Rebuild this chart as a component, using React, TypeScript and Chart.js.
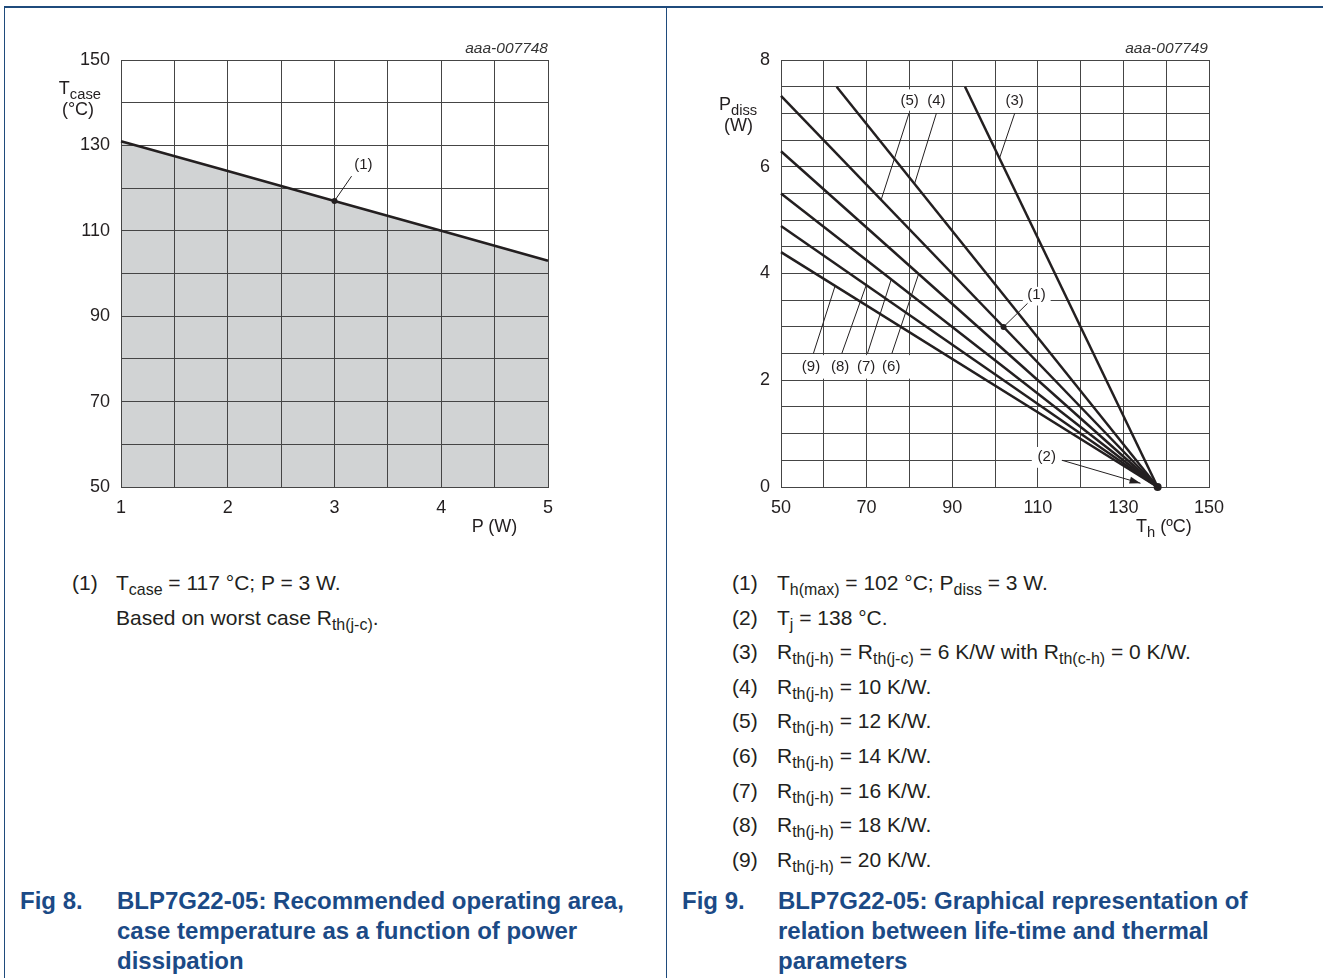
import React, { useEffect, useRef } from 'react';
import { Chart, registerables } from 'chart.js';

Chart.register(...registerables);

const INK = '#231f20';
const GRID = '#454545';
const FILL = '#d1d3d4';
const NAVY = '#1b4a86';
const FRAME = '#1f4b7c';
const FONT = '"Liberation Sans", Arial, Helvetica, sans-serif';

// ---------- Fig 8 data ----------
const fig8Power = [1, 2, 3, 4, 5];
const fig8Tcase = [131, 124, 117, 110, 103];
const fig8MarkerP = [3];
const fig8MarkerT = [117];
const fig8XLabels = [1, 2, 3, 4, 5];
const fig8YLabels = [50, 70, 90, 110, 130, 150];

// ---------- Fig 9 data ----------
const fig9Curves = ['(3)', '(4)', '(5)', '(6)', '(7)', '(8)', '(9)'];
const fig9ThStart = [93, 63, 50, 50, 50, 50, 50];
const fig9PStart = [7.5, 7.5, 7.33, 6.29, 5.5, 4.89, 4.4];
const fig9ThEnd = [138, 138, 138, 138, 138, 138, 138];
const fig9PEnd = [0, 0, 0, 0, 0, 0, 0];
const fig9MarkerTh = [102, 138];
const fig9MarkerP = [3, 0];
const fig9XLabels = [50, 70, 90, 110, 130, 150];
const fig9YLabels = [0, 2, 4, 6, 8];

// ---------- callouts (data coordinates) ----------
type Callout = { text: string; x: number; y: number; from: number[]; to: number[]; arrow?: boolean };
const fig8Callouts: Callout[] = [
  { text: '(1)', x: 3.27, y: 125.4, from: [3.16, 122.8], to: [3, 117] },
];
const fig8Masks: number[][] = [];
const fig9Callouts: Callout[] = [
  { text: '(5)', x: 80.05, y: 7.24, from: [79.9, 7.0], to: [73.4, 5.38] },
  { text: '(4)', x: 86.3, y: 7.24, from: [86.3, 7.0], to: [81.2, 5.68] },
  { text: '(3)', x: 104.6, y: 7.24, from: [104.6, 7.0], to: [101.05, 6.16] },
  { text: '(1)', x: 109.7, y: 3.6, from: [107.6, 3.44], to: [102, 3] },
  { text: '(2)', x: 112.1, y: 0.56, from: [115.7, 0.5], to: [134.0, 0.07], arrow: true },
  { text: '(9)', x: 57.0, y: 2.25, from: [57.56, 2.5], to: [62.65, 3.77] },
  { text: '(8)', x: 63.8, y: 2.25, from: [64.2, 2.5], to: [69.9, 3.78] },
  { text: '(7)', x: 69.9, y: 2.25, from: [70.2, 2.5], to: [75.76, 3.89] },
  { text: '(6)', x: 75.76, y: 2.25, from: [75.9, 2.5], to: [82.15, 3.99] },
];
const fig9Masks: number[][] = [
  [50.5, 2.03, 81.0, 2.47],
  [77.4, 7.05, 88.6, 7.45],
  [102.0, 7.05, 107.2, 7.45],
  [106.5, 3.40, 113.0, 3.75],
  [108.6, 0.36, 115.6, 0.75],
];

function calloutPlugin(callouts: Callout[], masks: number[][]) {
  return {
    id: 'callouts',
    beforeDatasetsDraw(chart: any) {
      const { ctx, scales } = chart;
      const xs = scales.x, ys = scales.y;
      ctx.save();
      ctx.fillStyle = '#ffffff';
      for (const m of masks) {
        const x1 = xs.getPixelForValue(m[0]);
        const x2 = xs.getPixelForValue(m[2]);
        const y1 = ys.getPixelForValue(m[1]);
        const y2 = ys.getPixelForValue(m[3]);
        ctx.fillRect(Math.min(x1, x2), Math.min(y1, y2), Math.abs(x2 - x1), Math.abs(y2 - y1));
      }
      ctx.restore();
    },
    afterDatasetsDraw(chart: any) {
      const { ctx, scales } = chart;
      const xs = scales.x, ys = scales.y;
      ctx.save();
      ctx.strokeStyle = INK;
      ctx.fillStyle = INK;
      ctx.lineWidth = 1;
      ctx.font = `15px ${FONT}`;
      ctx.textAlign = 'center';
      ctx.textBaseline = 'middle';
      for (const c of callouts) {
        const fx = xs.getPixelForValue(c.from[0]);
        const fy = ys.getPixelForValue(c.from[1]);
        const tx = xs.getPixelForValue(c.to[0]);
        const ty = ys.getPixelForValue(c.to[1]);
        ctx.beginPath();
        ctx.moveTo(fx, fy);
        ctx.lineTo(tx, ty);
        ctx.stroke();
        if (c.arrow) {
          const ang = Math.atan2(ty - fy, tx - fx);
          const len = 11, hw = 3.5;
          ctx.beginPath();
          ctx.moveTo(tx, ty);
          ctx.lineTo(tx - len * Math.cos(ang) + hw * Math.sin(ang), ty - len * Math.sin(ang) - hw * Math.cos(ang));
          ctx.lineTo(tx - len * Math.cos(ang) - hw * Math.sin(ang), ty - len * Math.sin(ang) + hw * Math.cos(ang));
          ctx.closePath();
          ctx.fill();
        }
        ctx.fillText(c.text, xs.getPixelForValue(c.x), ys.getPixelForValue(c.y));
      }
      ctx.restore();
    },
  };
}

function axis(min: number, max: number, step: number, labels: number[], horizontal: boolean, size: number, pad: number) {
  return {
    type: 'linear',
    min,
    max,
    position: horizontal ? 'bottom' : 'left',
    afterFit: (s: any) => {
      if (horizontal) s.height = size;
      else s.width = size;
    },
    ticks: {
      stepSize: step,
      autoSkip: false,
      maxRotation: 0,
      minRotation: 0,
      padding: pad,
      color: INK,
      font: { family: FONT, size: 18 },
      callback: (v: any) => (labels.some((l) => Math.abs(l - Number(v)) < 1e-6) ? String(v) : ''),
    },
    grid: { color: GRID, lineWidth: 1, drawTicks: false },
    border: { color: GRID, width: 1 },
  };
}

function baseOptions(padding: any, xAxis: any, yAxis: any) {
  return {
    animation: false,
    responsive: false,
    events: [],
    layout: { padding },
    plugins: {
      legend: { display: false },
      tooltip: { enabled: false },
      filler: { drawTime: 'beforeDraw' },
    },
    scales: { x: xAxis, y: yAxis },
  };
}

function fig8Config(): any {
  return {
    type: 'line',
    data: {
      datasets: [
        {
          data: fig8MarkerP.map((p, i) => ({ x: p, y: fig8MarkerT[i] })),
          showLine: false,
          pointRadius: 3,
          pointBackgroundColor: INK,
          pointBorderWidth: 0,
          fill: false,
          clip: false,
        },
        {
          data: fig8Power.map((p, i) => ({ x: p, y: fig8Tcase[i] })),
          borderColor: INK,
          borderWidth: 2.6,
          backgroundColor: FILL,
          fill: 'start',
          pointRadius: 0,
          tension: 0,
          clip: 4,
        },
      ],
    },
    options: baseOptions(
      { left: 0, top: 60, right: 664 - 548, bottom: 560 - 487 - 40 },
      axis(1, 5, 0.5, fig8XLabels, true, 40, 10),
      axis(50, 150, 10, fig8YLabels, false, 121, 11)
    ),
    plugins: [calloutPlugin(fig8Callouts, fig8Masks)],
  };
}

function fig9Config(): any {
  const lines = fig9Curves.map((name, i) => ({
    label: name,
    data: [
      { x: fig9ThStart[i], y: fig9PStart[i] },
      { x: fig9ThEnd[i], y: fig9PEnd[i] },
    ],
    borderColor: INK,
    borderWidth: 2.5,
    pointRadius: 0,
    fill: false,
    tension: 0,
    clip: false,
  }));
  return {
    type: 'line',
    data: {
      datasets: [
        {
          data: fig9MarkerTh.map((t, i) => ({ x: t, y: fig9MarkerP[i] })),
          showLine: false,
          pointRadius: [3, 4],
          pointBackgroundColor: INK,
          pointBorderWidth: 0,
          fill: false,
          clip: false,
        },
        ...lines,
      ],
    },
    options: baseOptions(
      { left: 0, top: 60, right: 659 - (1209 - 664), bottom: 560 - 487 - 40 },
      axis(50, 150, 10, fig9XLabels, true, 40, 10),
      axis(0, 8, 0.5, fig9YLabels, false, 781 - 664, 11)
    ),
    plugins: [calloutPlugin(fig9Callouts, fig9Masks)],
  };
}

function ChartCanvas({ make, left, top, width, height }: any) {
  const ref = useRef<HTMLCanvasElement>(null);
  useEffect(() => {
    const chart = new Chart(ref.current as HTMLCanvasElement, make());
    return () => chart.destroy();
  }, []);
  return (
    <canvas
      ref={ref}
      width={width}
      height={height}
      style={{ position: 'absolute', left, top, width, height, display: 'block' }}
    />
  );
}

function Txt({ x, y, align = 'left', size = 18, bold = false, italic = false, color = INK, children }: any) {
  const tx = align === 'left' ? '0' : align === 'center' ? '-50%' : '-100%';
  return (
    <div
      style={{
        position: 'absolute',
        left: x,
        top: y,
        transform: `translate(${tx}, -50%)`,
        fontFamily: FONT,
        fontSize: size,
        fontWeight: bold ? 'bold' : 'normal',
        fontStyle: italic ? 'italic' : 'normal',
        lineHeight: 1,
        color,
        whiteSpace: 'nowrap',
        zIndex: 2,
      }}
    >
      {children}
    </div>
  );
}

function Sub({ children, scale = 0.76 }: any) {
  return <span style={{ fontSize: `${scale}em`, position: 'relative', top: '0.32em' }}>{children}</span>;
}

const leftNoteRows = [
  { n: '(1)', body: <>T<Sub>case</Sub> = 117 °C; P = 3 W.</> },
  { n: '', body: <>Based on worst case R<Sub>th(j-c)</Sub>.</> },
];

const rightNoteRows = [
  { n: '(1)', body: <>T<Sub>h(max)</Sub> = 102 °C; P<Sub>diss</Sub> = 3 W.</> },
  { n: '(2)', body: <>T<Sub>j</Sub> = 138 °C.</> },
  { n: '(3)', body: <>R<Sub>th(j-h)</Sub> = R<Sub>th(j-c)</Sub> = 6 K/W with R<Sub>th(c-h)</Sub> = 0 K/W.</> },
  { n: '(4)', body: <>R<Sub>th(j-h)</Sub> = 10 K/W.</> },
  { n: '(5)', body: <>R<Sub>th(j-h)</Sub> = 12 K/W.</> },
  { n: '(6)', body: <>R<Sub>th(j-h)</Sub> = 14 K/W.</> },
  { n: '(7)', body: <>R<Sub>th(j-h)</Sub> = 16 K/W.</> },
  { n: '(8)', body: <>R<Sub>th(j-h)</Sub> = 18 K/W.</> },
  { n: '(9)', body: <>R<Sub>th(j-h)</Sub> = 20 K/W.</> },
];

const leftCaption = ['BLP7G22-05: Recommended operating area,', 'case temperature as a function of power', 'dissipation'];
const rightCaption = ['BLP7G22-05: Graphical representation of', 'relation between life-time and thermal', 'parameters'];

export default function App() {
  const rowY0 = 582;
  const rowStep = 34.6;
  const capY = [900.5, 930.5, 960.5];
  return (
    <div
      style={{
        position: 'absolute',
        left: 0,
        top: 0,
        width: 1323,
        height: 978,
        background: '#ffffff',
        overflow: 'hidden',
      }}
    >
      {/* frame */}
      <div style={{ position: 'absolute', left: 4, top: 6, width: 1319, height: 1.5, background: FRAME, zIndex: 3 }} />
      <div style={{ position: 'absolute', left: 4, top: 6, width: 1, height: 972, background: FRAME, zIndex: 3 }} />
      <div style={{ position: 'absolute', left: 666, top: 6, width: 1, height: 972, background: FRAME, zIndex: 3 }} />

      <ChartCanvas make={fig8Config} left={0} top={0} width={664} height={560} />
      <ChartCanvas make={fig9Config} left={664} top={0} width={659} height={560} />

      {/* Fig 8 texts */}
      <Txt x={548} y={48} align="right" size={15.5} italic color="#333">aaa-007748</Txt>
      <Txt x={101} y={88} align="right">T<Sub scale={0.82}>case</Sub></Txt>
      <Txt x={78} y={109} align="center">(°C)</Txt>
      <Txt x={494.5} y={526} align="center">P (W)</Txt>

      {/* Fig 9 texts */}
      <Txt x={1208} y={48} align="right" size={15.5} italic color="#333">aaa-007749</Txt>
      <Txt x={719} y={104} align="left">P<Sub scale={0.82}>diss</Sub></Txt>
      <Txt x={738.5} y={125} align="center">(W)</Txt>
      <Txt x={1136} y={526} align="left">T<Sub scale={0.82}>h</Sub> (ºC)</Txt>

      {/* notes */}
      {leftNoteRows.map((r, i) => (
        <React.Fragment key={'l' + i}>
          {r.n && <Txt x={72} y={rowY0 + i * rowStep} size={21}>{r.n}</Txt>}
          <Txt x={116} y={rowY0 + i * rowStep} size={21}>{r.body}</Txt>
        </React.Fragment>
      ))}
      {rightNoteRows.map((r, i) => (
        <React.Fragment key={'r' + i}>
          <Txt x={732} y={rowY0 + i * rowStep} size={21}>{r.n}</Txt>
          <Txt x={777} y={rowY0 + i * rowStep} size={21}>{r.body}</Txt>
        </React.Fragment>
      ))}

      {/* captions */}
      <Txt x={20} y={capY[0]} size={24} bold color={NAVY}>Fig 8.</Txt>
      {leftCaption.map((t, i) => (
        <Txt key={'lc' + i} x={117} y={capY[i]} size={24} bold color={NAVY}>{t}</Txt>
      ))}
      <Txt x={682} y={capY[0]} size={24} bold color={NAVY}>Fig 9.</Txt>
      {rightCaption.map((t, i) => (
        <Txt key={'rc' + i} x={778} y={capY[i]} size={24} bold color={NAVY}>{t}</Txt>
      ))}
    </div>
  );
}
